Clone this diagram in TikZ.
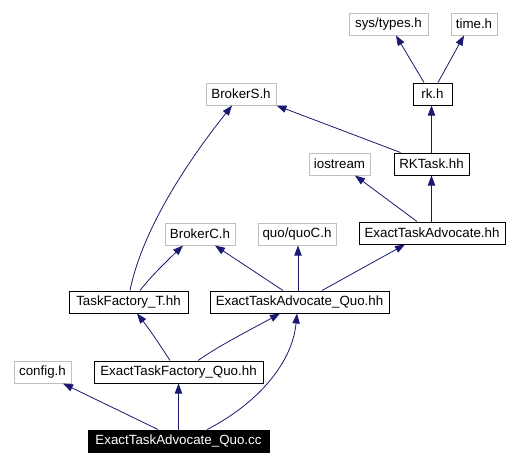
\documentclass[tikz,border=0pt]{standalone}
\usepackage{fontspec}
\setmainfont{Liberation Sans}
\usetikzlibrary{arrows.meta,calc}
\definecolor{edgecol}{RGB}{25,25,112}
\definecolor{extgray}{RGB}{191,191,191}
\tikzset{
  box/.style={draw=black, line width=0.75pt, inner sep=0pt, minimum height=22*0.75pt, font=\fontsize{10pt}{12pt}\selectfont},
  ext/.style={box, draw=extgray},
  root/.style={box, fill=black, text=white},
  edge/.style={draw=edgecol, line width=0.6pt, -{Triangle[length=7.5pt,width=5.5pt]}}
}
\begin{document}
\begin{tikzpicture}[x=0.75pt,y=-0.75pt]
\useasboundingbox (0,0) rectangle (517,465);
\node[ext, minimum width=79*0.75pt] (systypes) at (388.5,24) {sys/types.h};
\node[ext, minimum width=46*0.75pt] (timeh) at (474,24) {time.h};
\node[box, minimum width=39*0.75pt] (rkh) at (432.5,94) {rk.h};
\node[ext, minimum width=70*0.75pt] (brokerS) at (241,94) {BrokerS.h};
\node[ext, minimum width=61*0.75pt] (iostream) at (339.5,164) {iostream};
\node[box, minimum width=75*0.75pt] (rktask) at (431.5,164) {RKTask.hh};
\node[box, minimum width=146*0.75pt] (eta) at (432,233) {ExactTaskAdvocate.hh};
\node[ext, minimum width=70*0.75pt] (brokerC) at (200,234) {BrokerC.h};
\node[ext, minimum width=78*0.75pt] (quoC) at (297,234) {quo/quoC.h};
\node[box, minimum width=119*0.75pt] (tft) at (128.5,302) {TaskFactory\_T.hh};
\node[box, minimum width=179*0.75pt] (etaq) at (299.5,302) {ExactTaskAdvocate\_Quo.hh};
\node[ext, minimum width=57*0.75pt] (config) at (42.5,372) {config.h};
\node[box, minimum width=169*0.75pt] (etfq) at (178.5,372) {ExactTaskFactory\_Quo.hh};
\node[root, minimum width=181*0.75pt] (cc) at (178.5,441) {ExactTaskAdvocate\_Quo.cc};

\draw[edge] ($(rkh.north)+(-8.5,0)$) -- ($(systypes.south)+(7.5,0)$);
\draw[edge] ($(rkh.north)+(5.5,0)$) -- ($(timeh.south)+(-10,0)$);
\draw[edge] (rktask.north) -- (rktask.north |- rkh.south);
\draw[edge] ($(rktask.north west)+(7,0)$) -- (brokerS.south east);
\draw[edge] (eta.north -| rktask.south) -- (rktask.south);
\draw[edge] ($(eta.north)+(-15,0)$) -- ($(iostream.south)+(15.5,0)$);
\draw[edge] ($(etaq.north)+(-16.5,0)$) -- ($(brokerC.south)+(15,0)$);
\draw[edge] ($(etaq.north)+(-1.5,0)$) -- ($(quoC.south)+(1,0)$);
\draw[edge] ($(etaq.north)+(22.5,0)$) -- ($(eta.south)+(-27,0)$);
\draw[edge] ($(tft.north)+(11.5,0)$) .. controls (152,275) and (170,258) .. ($(brokerC.south)+(-17,0)$);
\draw[edge] ($(tft.north)+(1.5,0)$) .. controls (138,250) and (165,190) .. ($(brokerS.south)+(-9,0)$);
\draw[edge] ($(etfq.north)+(-8.5,0)$) .. controls (160,345) and (150,330) .. ($(tft.south)+(8.5,0)$);
\draw[edge] ($(etfq.north)+(19.5,0)$) .. controls (220,345) and (250,330) .. ($(etaq.south)+(-19.5,0)$);
\draw[edge] ($(cc.north)+(-20.5,0)$) -- ($(config.south)+(20.5,0)$);
\draw[edge] (cc.north) -- (etfq.south);
\draw[edge] ($(cc.north)+(28.5,0)$) .. controls (255,405) and (292,365) .. ($(etaq.south)+(-2.5,0)$);
\end{tikzpicture}
\end{document}
